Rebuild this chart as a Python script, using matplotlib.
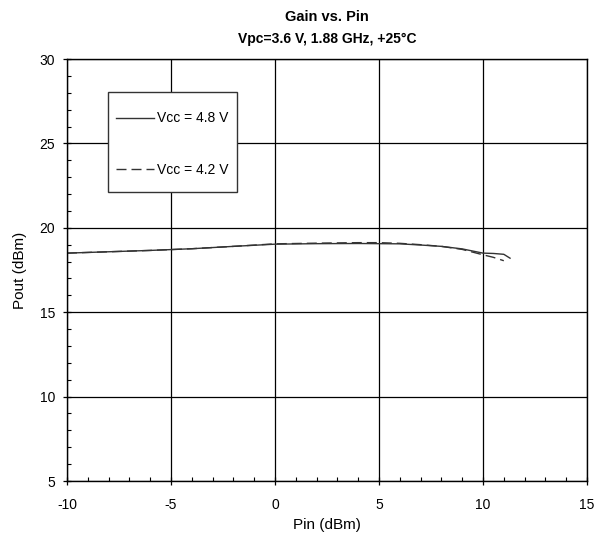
import matplotlib
matplotlib.use("Agg")
import matplotlib.pyplot as plt
from matplotlib.patches import Rectangle
from matplotlib.ticker import MultipleLocator

plt.rcParams['font.family'] = ['Liberation Sans', 'DejaVu Sans']
plt.rcParams['axes.unicode_minus'] = False

# Pout vs Pin
pin_48 = [-10, -8, -6, -4, -2, 0, 2, 4, 6, 7, 8, 9, 10, 10.5, 11, 11.3]
pout_48 = [18.50, 18.58, 18.66, 18.76, 18.90, 19.03, 19.06, 19.07, 19.05, 18.98, 18.90, 18.75, 18.50, 18.48, 18.43, 18.20]
pin_42 = [-10, -8, -6, -4, -2, 0, 2, 4, 5, 6, 7, 8, 9, 10, 10.5, 11]
pout_42 = [18.50, 18.58, 18.66, 18.76, 18.90, 19.05, 19.09, 19.12, 19.12, 19.08, 19.00, 18.90, 18.72, 18.40, 18.25, 18.05]

title_1 = "Gain vs. Pin"
title_2 = "Vpc=3.6 V, 1.88 GHz, +25°C"
x_label = "Pin (dBm)"
y_label = "Pout (dBm)"

fig = plt.figure(figsize=(5.97, 5.38), dpi=100)
ax = fig.add_axes([67/597, 1 - 481/538, 520/597, 422/538])

ax.plot(pin_48, pout_48, color='#333333', lw=1.0, label='Vcc = 4.8 V')
ax.plot(pin_42, pout_42, color='#333333', lw=1.0, dashes=(7.2, 3.6), label='Vcc = 4.2 V')

ax.set_xlim(-10, 15)
ax.set_ylim(5, 30)
ax.xaxis.set_major_locator(MultipleLocator(5))
ax.yaxis.set_major_locator(MultipleLocator(5))
ax.xaxis.set_minor_locator(MultipleLocator(1))
ax.yaxis.set_minor_locator(MultipleLocator(1))
ax.grid(True, which='major', color='black', lw=0.9)
ax.tick_params(which='major', direction='inout', length=6, width=0.9, labelsize=10, colors='black')
ax.tick_params(which='minor', direction='in', length=3, width=0.8)
ax.tick_params(axis='x', pad=9.5)
ax.tick_params(axis='y', pad=5.5)
for s in ax.spines.values():
    s.set_linewidth(1.0)

ax.set_xlabel(x_label, fontsize=11, labelpad=4)
ax.set_ylabel(y_label, fontsize=11, labelpad=9)
fig.text(327/597, 1 - 17/538, title_1, ha='center', va='center', fontsize=10.5, fontweight='bold')
fig.text(327/597, 1 - 39/538, title_2, ha='center', va='center', fontsize=10, fontweight='bold')

# legend box
ax.add_patch(Rectangle((0.079, 0.685), 0.248, 0.237, transform=ax.transAxes,
                       facecolor='white', edgecolor='#333333', lw=1.0, zorder=4))
leg = ax.legend(loc='upper left', bbox_to_anchor=(0.083, 0.889), frameon=False,
                handlelength=2.75, handletextpad=0.2, labelspacing=2.7,
                fontsize=10, borderaxespad=0)
leg.set_zorder(5)

fig.savefig("out.png", dpi=100)
